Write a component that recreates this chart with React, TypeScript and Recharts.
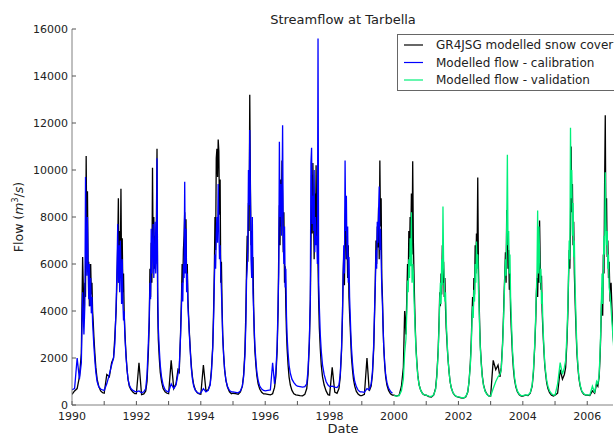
import React from 'react'
import { LineChart, Line, XAxis, YAxis } from 'recharts'

// one row per year, values at the fractions of the year below (denser through the melt season)
const years = [1990, 1991, 1992, 1993, 1994, 1995, 1996, 1997, 1998, 1999, 2000, 2001, 2002, 2003, 2004, 2005, 2006]
const yearFractions = [0, 0.08, 0.16, 0.23, 0.29, 0.33, 0.37, 0.4, 0.42, 0.44, 0.46, 0.48, 0.5, 0.52, 0.54, 0.56, 0.58, 0.6, 0.62, 0.64, 0.66, 0.68, 0.71, 0.74, 0.78, 0.83, 0.89, 0.95]

// GR4JSG modelled snow cover (black), 1990-2006
const snowCoverFlow = [
  [450, 600, 700, 1200, 2200, 6300, 3900, 5200, 4600, 10600, 6800, 9100, 5800, 6100, 4200, 5000, 6000, 4700, 5200, 4000, 3500, 2900, 2200, 1600, 1100, 800, 600, 520],
  [500, 1300, 1200, 1800, 2000, 2900, 4000, 5500, 6800, 8800, 5200, 7400, 6000, 9200, 5600, 7100, 4800, 5600, 3900, 3200, 2600, 2100, 1500, 1100, 800, 650, 550, 480],
  [480, 1800, 440, 470, 600, 1000, 2200, 3500, 5800, 4600, 6900, 5200, 10100, 6400, 8000, 5800, 7200, 6000, 7600, 10900, 4200, 2800, 2000, 1400, 1000, 700, 560, 500],
  [480, 1900, 700, 900, 1500, 1400, 3000, 4600, 6000, 5200, 6600, 7200, 8200, 6400, 7900, 5200, 6000, 4500, 3800, 3200, 2700, 2200, 1600, 1200, 850, 650, 520, 470],
  [460, 1700, 600, 650, 900, 1500, 2500, 4200, 5700, 8000, 6600, 10500, 10900, 9700, 11300, 10800, 8100, 9600, 5200, 6100, 4200, 3000, 2100, 1500, 1050, 750, 560, 480],
  [500, 480, 460, 560, 800, 1300, 2300, 4000, 5800, 7200, 6100, 8600, 7400, 13200, 9400, 6800, 7400, 5600, 6300, 4200, 3000, 2300, 1700, 1250, 900, 680, 540, 470],
  [470, 450, 430, 480, 750, 1200, 2300, 4000, 6500, 8500, 6800, 9600, 7600, 10400, 8800, 6500, 8200, 5200, 5900, 4200, 3100, 2400, 1700, 1200, 850, 620, 480, 430],
  [420, 400, 390, 450, 700, 1300, 2600, 4300, 6500, 9800, 7300, 10300, 8200, 6200, 9000, 6900, 10200, 7100, 8400, 5900, 4400, 3300, 2400, 1700, 1200, 850, 600, 440],
  [420, 1600, 550, 500, 700, 1200, 2300, 3800, 5600, 6400, 5100, 7600, 8600, 6200, 7200, 5400, 6800, 4600, 3900, 3300, 2600, 2000, 1500, 1100, 800, 580, 460, 400],
  [400, 450, 2000, 600, 800, 1300, 2400, 4100, 5400, 7000, 6000, 7600, 6700, 8400, 6200, 10400, 7600, 8800, 5400, 4600, 3400, 2500, 1700, 1200, 850, 620, 480, 420],
  [420, 380, 420, 800, 1600, 4000, 3000, 4800, 6000, 5200, 7400, 6300, 8000, 7000, 9000, 6400, 10370, 7000, 5600, 4300, 3300, 2500, 1800, 1250, 850, 620, 480, 420],
  [420, 360, 340, 420, 700, 1300, 2300, 3600, 4800, 4200, 5600, 4700, 6800, 5200, 6100, 4600, 5400, 4100, 3300, 2800, 2300, 1900, 1400, 1000, 720, 520, 400, 350],
  [330, 300, 290, 350, 550, 1000, 1800, 2800, 3800, 4600, 3900, 5400, 4700, 6800, 5600, 7300, 6400, 9680, 6000, 4600, 3400, 2500, 1800, 1250, 850, 600, 450, 380],
  [380, 1900, 1500, 1700, 1200, 1600, 2600, 3800, 4800, 5600, 6500, 5200, 8300, 7400, 5800, 6600, 4900, 5600, 4000, 3300, 2700, 2100, 1500, 1100, 780, 560, 430, 380],
  [380, 420, 400, 500, 800, 1400, 2500, 3600, 4700, 5400, 4600, 6000, 5200, 7850, 6100, 4900, 5500, 4000, 3300, 2700, 2200, 1700, 1300, 950, 700, 520, 420, 380],
  [420, 500, 1500, 1100, 1300, 1600, 2700, 4000, 5400, 6600, 5800, 7600, 11000, 8200, 9400, 6800, 7800, 5600, 4600, 3700, 2900, 2200, 1600, 1150, 800, 580, 460, 420],
  [420, 400, 600, 500, 900, 800, 1200, 2100, 3000, 4200, 5000, 3800, 6400, 5600, 9480, 12330, 7400, 8800, 6300, 7000, 5400, 6100, 4400, 5200, 3600, 2400, 1500, 900],
]

// Modelled flow - calibration (blue), 1990-1999
const calibrationFlow = [
  [650, 700, 2000, 1100, 1800, 4800, 3000, 4300, 9700, 7000, 5500, 8000, 5800, 4500, 6000, 4200, 5400, 3900, 4600, 3500, 3000, 2500, 1900, 1400, 1000, 780, 680, 640],
  [620, 900, 1300, 1700, 2000, 2600, 4200, 6000, 7700, 5200, 6800, 4800, 7000, 5900, 4300, 6200, 4400, 3600, 4000, 3000, 2500, 2000, 1500, 1100, 850, 700, 620, 580],
  [560, 600, 520, 560, 700, 1300, 2600, 3800, 5200, 4500, 7500, 5600, 6800, 7700, 5400, 6200, 7800, 5600, 6300, 10500, 5000, 3300, 2400, 1700, 1200, 850, 650, 580],
  [560, 900, 700, 850, 1300, 1600, 2900, 4200, 5200, 4400, 6000, 5400, 9500, 5600, 7500, 4800, 5600, 4200, 3700, 3100, 2600, 2100, 1500, 1100, 800, 620, 530, 490],
  [520, 700, 560, 620, 850, 1400, 2400, 3800, 5200, 6400, 5800, 7300, 8000, 6900, 9400, 7700, 6200, 6800, 5600, 4900, 3900, 2900, 2100, 1500, 1050, 780, 620, 560],
  [560, 540, 520, 600, 800, 1200, 2100, 3500, 5300, 5800, 6600, 10000, 8500, 11700, 9000, 6200, 5400, 8000, 4800, 4000, 3200, 2500, 1900, 1400, 1050, 800, 680, 620],
  [600, 620, 640, 1800, 900, 1400, 2500, 4300, 5600, 11200, 8000, 9400, 7200, 8600, 11900, 7000, 6000, 7600, 5000, 5800, 3800, 2900, 2200, 1700, 1350, 1100, 950, 850],
  [800, 780, 760, 780, 900, 1500, 2700, 4500, 10300, 10950, 7700, 8900, 7400, 10000, 6500, 8000, 6800, 7200, 6000, 15600, 5200, 4200, 3000, 2300, 1700, 1300, 1000, 850],
  [780, 800, 760, 740, 850, 1300, 2400, 4000, 5400, 6800, 5600, 10400, 7400, 8900, 6200, 7600, 5200, 6300, 4600, 3800, 3000, 2400, 1800, 1350, 1000, 780, 620, 560],
  [560, 540, 700, 650, 900, 1400, 2600, 4300, 5100, 6600, 5800, 7800, 6900, 8200, 9300, 6600, 7500, 6200, 5000, 4300, 3300, 2500, 1800, 1300, 950, 720, 580, 500],
]

// Modelled flow - validation (green), 2000-2006
const validationFlow = [
  [400, 380, 400, 600, 1100, 2200, 2800, 4100, 5300, 4800, 6200, 5400, 7100, 5900, 8200, 5200, 6000, 5600, 4600, 3800, 3100, 2400, 1700, 1200, 850, 620, 480, 430],
  [420, 380, 360, 430, 650, 1200, 2200, 3400, 4500, 5200, 4300, 6200, 5100, 8450, 6000, 5300, 4400, 4800, 3600, 3000, 2400, 1900, 1400, 1000, 720, 520, 410, 360],
  [350, 320, 300, 360, 560, 1000, 1700, 2600, 3500, 4200, 3700, 4900, 4400, 6000, 5200, 6960, 5800, 6400, 5000, 4200, 3200, 2400, 1700, 1200, 820, 580, 440, 380],
  [380, 700, 1000, 1200, 1300, 1500, 2500, 3600, 4500, 5400, 6200, 5500, 7800, 10650, 6800, 7400, 5600, 6400, 4600, 3800, 3000, 2300, 1700, 1200, 850, 600, 460, 400],
  [400, 430, 420, 520, 850, 1500, 2600, 3800, 4800, 5700, 8280, 5600, 7600, 6400, 5200, 5800, 4300, 4800, 3600, 2900, 2300, 1800, 1400, 1050, 800, 600, 480, 420],
  [420, 900, 1800, 1300, 1600, 1900, 3000, 4300, 5600, 7000, 6200, 11800, 8800, 10000, 7200, 8600, 6300, 7000, 5200, 4200, 3200, 2400, 1700, 1200, 850, 600, 480, 430],
  [430, 420, 800, 520, 1000, 900, 1300, 2300, 3200, 4400, 5600, 4300, 5800, 7200, 6400, 9900, 7800, 6800, 7400, 5800, 6400, 5000, 4700, 4100, 3300, 2300, 1500, 900],
]

const yearTicks = [1990, 1991, 1992, 1993, 1994, 1995, 1996, 1997, 1998, 1999, 2000, 2001, 2002, 2003, 2004, 2005, 2006]
const flowTicks = [0, 2000, 4000, 6000, 8000, 10000, 12000, 14000, 16000]

const nCalib = calibrationFlow.length
const rows: any[] = []
years.forEach((year, yi) => {
  yearFractions.forEach((f, fi) => {
    rows.push({
      date: year + f,
      snow: snowCoverFlow[yi][fi],
      calibration: yi < nCalib ? calibrationFlow[yi][fi] : null,
      validation: yi >= nCalib ? validationFlow[yi - nCalib][fi] : null,
    })
  })
})

const font = 'DejaVu Sans'
const frame = '#808080'
const tickStyle = { fontSize: 11, fill: '#222', fontFamily: font }

const legendItems = [
  { label: 'GR4JSG modelled snow cover', color: '#000000' },
  { label: 'Modelled flow - calibration', color: '#0000ff' },
  { label: 'Modelled flow - validation', color: '#00f07a' },
]

export default function App() {
  return (
    <div style={{ position: 'fixed', left: 0, top: 0, width: 614, height: 435, overflow: 'hidden', background: '#fff' }}>
      <LineChart width={614} height={435} data={rows} margin={{ top: 29, right: 1, bottom: 0, left: 0 }}>
        <XAxis
          xAxisId="top"
          orientation="top"
          type="number"
          dataKey="date"
          domain={[1990, 2006.8]}
          allowDataOverflow
          ticks={yearTicks}
          interval={0}
          height={0}
          tickSize={-4}
          tickFormatter={() => ''}
          axisLine={{ stroke: frame }}
          tickLine={{ stroke: '#555' }}
        />
        <XAxis
          type="number"
          dataKey="date"
          domain={[1990, 2006.8]}
          allowDataOverflow
          ticks={yearTicks}
          interval={0}
          height={30}
          tickSize={-4}
          tickMargin={11}
          tickFormatter={(v: number) => (v % 2 === 0 ? String(v) : '')}
          tick={tickStyle}
          axisLine={{ stroke: frame }}
          tickLine={{ stroke: '#555' }}
        />
        <YAxis
          domain={[0, 16000]}
          allowDataOverflow
          ticks={flowTicks}
          interval={0}
          width={72}
          tickSize={-4}
          tickMargin={8}
          tick={tickStyle}
          axisLine={{ stroke: frame }}
          tickLine={{ stroke: '#555' }}
        />
        <Line type="linear" dataKey="snow" stroke="#000000" strokeWidth={1.3} dot={false} isAnimationActive={false} />
        <Line type="linear" dataKey="calibration" stroke="#0000ff" strokeWidth={1.3} dot={false} isAnimationActive={false} />
        <Line type="linear" dataKey="validation" stroke="#00f07a" strokeWidth={1.3} dot={false} isAnimationActive={false} />
      </LineChart>

      <svg width={614} height={435} style={{ position: 'absolute', left: 0, top: 0, pointerEvents: 'none' }} fontFamily={font} fill="#222">
        <text x={343} y={24} textAnchor="middle" fontSize={13}>Streamflow at Tarbella</text>
        <text x={343} y={433} textAnchor="middle" fontSize={13}>Date</text>
        <text transform="translate(23,217) rotate(-90)" textAnchor="middle" fontSize={12.5}>
          Flow (<tspan fontStyle="italic">m</tspan>
          <tspan fontSize={8} dy={-5}>3</tspan>
          <tspan dy={5}>/</tspan>
          <tspan fontStyle="italic">s</tspan>)
        </text>

        <rect x={397.5} y={34.5} width={240} height={56} fill="#fff" stroke="#666" />
        {legendItems.map((item, i) => (
          <g key={item.label}>
            <line x1={404} x2={423} y1={45 + i * 17.5} y2={45 + i * 17.5} stroke={item.color} strokeWidth={1.2} />
            <text x={436} y={45 + i * 17.5 + 4} fontSize={12}>{item.label}</text>
          </g>
        ))}
      </svg>
    </div>
  )
}
